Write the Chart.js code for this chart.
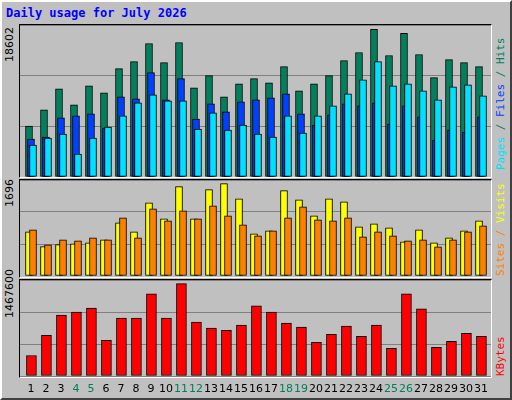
<!DOCTYPE html>
<html><head><meta charset="utf-8">
<script src="https://cdn.jsdelivr.net/npm/chart.js@4"></script>
<style>
body{margin:0;width:512px;height:400px;background:#C0C0C0;position:relative;overflow:hidden;font-family:"DejaVu Sans Mono",monospace}
#outer{position:absolute;left:0;top:0;width:508px;height:396px;border-top:2px solid #fff;border-left:2px solid #fff;border-right:2px solid #404040;border-bottom:2px solid #404040;box-sizing:content-box}
.panel{position:absolute;left:19px;width:471px;border-top:1px solid #000;border-left:1px solid #000;border-right:1px solid #fff;border-bottom:1px solid #fff;background:#C0C0C0}
canvas{position:absolute}
.title{position:absolute;left:6px;top:6px;color:#0000FF;font-weight:bold;font-size:12px}
.ylab,.rlab{position:absolute;font-size:11px;transform-origin:left top;transform:rotate(-90deg);white-space:nowrap}
</style></head><body>
<div id="outer"></div>
<div class="title">Daily usage for July 2026</div>
<div class="panel" style="top:24px;height:152px"></div>
<div class="panel" style="top:179px;height:97px"></div>
<div class="panel" style="top:279px;height:97px"></div>
<div class="ylab" style="left:3px;top:62px;color:#000;font-family:'DejaVu Sans'">18602</div>
<div class="ylab" style="left:3px;top:207px;color:#000;font-family:'DejaVu Sans'">1696</div>
<div class="ylab" style="left:3px;top:318px;color:#000;font-family:'DejaVu Sans'">1467600</div>
<div class="rlab" style="left:494px;top:170px"><span style="color:#00E0FF">Pages</span><span style="color:#00805C"> / </span><span style="color:#0040FF">Files</span><span style="color:#00805C"> / Hits</span></div>
<div class="rlab" style="left:494px;top:276px"><span style="color:#FF8000">Sites / </span><span style="color:#FFFF00">Visits</span></div>
<div class="rlab" style="left:494px;top:376px;color:#FF0000">KBytes</div>
<canvas id="c1" width="471" height="152" style="left:20px;top:25px;width:471px;height:152px"></canvas>
<canvas id="c2" width="471" height="96" style="left:20px;top:180px;width:471px;height:96px"></canvas>
<canvas id="c3" width="471" height="120" style="left:20px;top:280px;width:471px;height:120px"></canvas>
<script>
const days=[1,2,3,4,5,6,7,8,9,10,11,12,13,14,15,16,17,18,19,20,21,22,23,24,25,26,27,28,29,30,31];
const weekend=[4,5,11,12,18,19,25,26];
const hits=[6241,8212,10799,8828,11168,10306,13262,14125,16342,14001,16465,10922,12400,9813,11415,12031,11538,13509,10552,11415,12400,14248,15233,18066,14864,17574,14987,12154,14371,14001,13509];
const files=[4640,4886,7227,7473,7719,5995,9813,9567,12770,9444,12031,7103,8951,7966,9197,9444,9690,10183,7719,6364,7596,8951,8705,9074,6487,8705,7350,4517,5748,5502,7350];
const pages=[3901,4763,5256,2792,4763,6118,7473,9074,10060,9321,9321,5872,7842,5748,6364,5256,4886,7473,5379,7473,8705,10183,11907,14125,11168,11415,10552,9444,11045,11291,9937];
const sites=[780,520,555,567,585,638,940,780,1294,1010,1578,1010,1525,1631,1365,745,798,1507,1347,1064,1365,1312,869,922,851,603,815,585,674,798,975];
const visits=[815,550,638,620,674,638,1028,674,1188,975,1152,1010,1241,1064,904,709,798,1028,1223,993,975,1028,691,780,709,620,638,514,638,780,886];
const kbytes=[314000,623000,932000,978000,1040000,546000,886000,886000,1256000,886000,1411000,824000,731000,700000,778000,1071000,978000,808000,747000,515000,638000,762000,608000,778000,422000,1256000,1025000,438000,530000,654000,608000];
const maxHits=18602, maxSites=1696, maxKB=1467600;
Chart.defaults.animation=false;
function ds(vals,shift,color,w,ord){return{data:vals.map((v,i)=>({x:days[i]+shift,y:v})),backgroundColor:color,borderColor:'#000',borderWidth:1,barThickness:w,grouped:false,borderSkipped:false,order:ord};}
function opts(max,pad){return{responsive:false,devicePixelRatio:1,layout:{padding:pad||0},plugins:{legend:{display:false},tooltip:{enabled:false}},
 scales:{x:{type:'linear',offset:false,min:0.267,max:31.667,display:false},y:{min:0,max:max,display:true,ticks:{display:false,stepSize:max/3},grid:{color:'#808080',drawTicks:false},border:{display:false}}}};}
const d=1/7.5;
new Chart(c1,{type:'bar',data:{datasets:[ds(hits,-d,'#00805C',7,3),ds(files,0,'#0040FF',7,2),ds(pages,d,'#00E0FF',7,1)]},options:opts(maxHits)});
new Chart(c2,{type:'bar',data:{datasets:[ds(sites,-d,'#FFFF00',7,2),ds(visits,d,'#FF8000',7,1)]},options:opts(maxSites)});
const lbl={id:'lbl',afterDraw(ch){const c=ch.ctx,x=ch.scales.x;c.save();c.font='11px "DejaVu Sans"';c.textAlign='center';c.textBaseline='middle';
 days.forEach(dd=>{c.fillStyle=weekend.includes(dd)?'#00805C':'#000';c.fillText(String(dd),x.getPixelForValue(dd),ch.chartArea.bottom+13);});c.restore();}};
new Chart(c3,{type:'bar',data:{datasets:[ds(kbytes,0.03,'#FF0000',10,1)]},options:opts(maxKB,{bottom:24}),plugins:[lbl]});
</script></body></html>
